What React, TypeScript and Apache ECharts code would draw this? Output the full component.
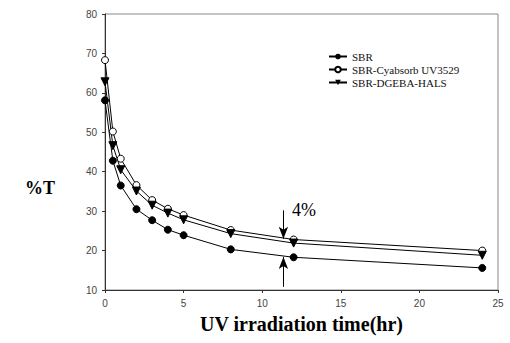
import React, { useEffect, useRef } from "react";
import * as echarts from "echarts";

const timeHr = [0, 0.5, 1, 2, 3, 4, 5, 8, 12, 24];
const sbr = [58.1, 42.8, 36.5, 30.5, 27.7, 25.3, 23.9, 20.3, 18.3, 15.6];
const cyabsorb = [68.3, 50.2, 43.3, 36.6, 32.8, 30.6, 29.0, 25.2, 22.8, 20.0];
const dgeba = [62.8, 46.6, 40.5, 35.1, 31.5, 29.5, 27.8, 24.3, 21.9, 18.8];
const seriesNames = ["SBR", "SBR-Cyabsorb UV3529", "SBR-DGEBA-HALS"];
const arrowX = 11.35;
const downArrow = [30.2, 23.0];
const upArrow = [10.8, 18.4];
const annotationText = "4%";

const serif = "'Liberation Serif', 'Times New Roman', serif";
const sans = "'Liberation Sans', Arial, sans-serif";

export default function App() {
  const ref = useRef<HTMLDivElement>(null);
  useEffect(() => {
    if (!ref.current) return;
    const chart = echarts.init(ref.current, undefined, { renderer: "svg" });
    const pts = (ys: number[]) => timeHr.map((x, i) => [x, ys[i]]);
    const lineStyle = { color: "#000", width: 1 };
    chart.setOption({
      animation: false,
      backgroundColor: "#fff",
      grid: {
        left: 105,
        right: 12,
        top: 14,
        bottom: 53,
        show: true,
        borderColor: "#888",
        borderWidth: 1,
      },
      legend: {
        orient: "vertical",
        left: 328,
        top: 50,
        itemGap: 0,
        itemWidth: 18,
        itemHeight: 7,
        padding: 0,
        textStyle: { fontFamily: serif, fontSize: 11, color: "#111", lineHeight: 13 },
        data: seriesNames,
      },
      xAxis: {
        type: "value",
        min: 0,
        max: 25,
        interval: 5,
        name: "UV irradiation time(hr)",
        nameLocation: "middle",
        nameGap: 24,
        nameTextStyle: { fontFamily: serif, fontSize: 20, fontWeight: "bold", color: "#000" },
        axisLine: { lineStyle: { color: "#333", width: 1 } },
        axisTick: { show: true, length: 3, lineStyle: { color: "#333" } },
        axisLabel: { fontFamily: sans, fontSize: 10, color: "#444", margin: 8 },
        splitLine: { show: false },
      },
      yAxis: {
        type: "value",
        min: 10,
        max: 80,
        interval: 10,
        axisLine: { show: true, lineStyle: { color: "#333", width: 1 } },
        axisTick: { show: true, length: 3, lineStyle: { color: "#333" } },
        axisLabel: { fontFamily: sans, fontSize: 10, color: "#444", margin: 8 },
        splitLine: { show: false },
      },
      graphic: [
        {
          type: "text",
          left: 25,
          top: 179,
          style: { text: "%T", font: `bold 18px ${serif}`, fill: "#000" },
        },
      ],
      series: [
        {
          name: seriesNames[0],
          type: "line",
          data: pts(sbr),
          symbol: "circle",
          symbolSize: 7,
          itemStyle: { color: "#000", borderColor: "#000" },
          lineStyle,
          markLine: {
            silent: true,
            symbol: ["none", "arrow"],
            symbolSize: [7, 12],
            label: { show: false },
            lineStyle: { color: "#000", width: 1, type: "solid" },
            data: [
              [{ coord: [arrowX, downArrow[0]] }, { coord: [arrowX, downArrow[1]] }],
              [{ coord: [arrowX, upArrow[0]] }, { coord: [arrowX, upArrow[1]] }],
            ],
          },
          markPoint: {
            silent: true,
            symbol: "rect",
            symbolSize: 1,
            itemStyle: { color: "rgba(0,0,0,0)" },
            label: {
              show: true,
              position: "right",
              distance: 8,
              formatter: annotationText,
              fontFamily: serif,
              fontSize: 18,
              color: "#000",
              textBorderWidth: 0,
            },
            data: [{ coord: [arrowX, 30.2] }],
          },
        },
        {
          name: seriesNames[1],
          type: "line",
          data: pts(cyabsorb),
          symbol: "circle",
          symbolSize: 7,
          itemStyle: { color: "#fff", borderColor: "#000", borderWidth: 1 },
          lineStyle,
        },
        {
          name: seriesNames[2],
          type: "line",
          data: pts(dgeba),
          symbol: "triangle",
          symbolRotate: 180,
          symbolSize: 8,
          itemStyle: { color: "#000", borderColor: "#000" },
          lineStyle,
        },
      ],
    });
    return () => chart.dispose();
  }, []);
  return (
    <div
      ref={ref}
      style={{ position: "absolute", left: 0, top: 0, width: 510, height: 343 }}
    />
  );
}
